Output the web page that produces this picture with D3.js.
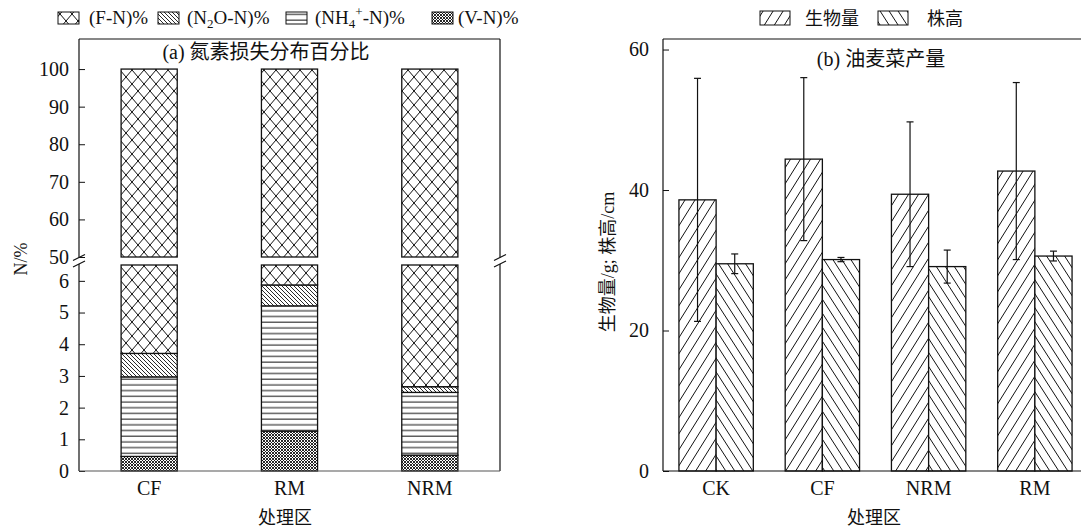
<!DOCTYPE html>
<html><head><meta charset="utf-8">
<script src="https://cdn.jsdelivr.net/npm/d3@7"></script>
<style>
body{margin:0;background:#fff;}
text{font-family:"Liberation Serif","Noto Sans CJK SC",serif;fill:#111;}
</style></head><body>
<svg id="c" width="1081" height="529"></svg>
<script>
// ---------- data: panel (a) ----------
const catsA = ["CF","RM","NRM"];
const vN   = [0.46, 1.26, 0.50];   // (V-N)%
const nh4N = [2.51, 3.95, 1.98];   // (NH4+-N)%
const n2oN = [0.74, 0.66, 0.18];   // (N2O-N)%
const totalA = [100, 100, 100];    // F-N fills to 100
const ticksLow  = [0,1,2,3,4,5,6];
const ticksHigh = [50,60,70,80,90,100];

// ---------- data: panel (b) ----------
const catsB = ["CK","CF","NRM","RM"];
const seriesB = ["生物量","株高"];
const biomass    = [38.6, 44.4, 39.4, 42.7];
const biomassErr = [17.3, 11.6, 10.3, 12.6];
const plantH     = [29.5, 30.1, 29.1, 30.6];
const plantHErr  = [1.4, 0.3, 2.35, 0.7];
const ticksB = [0,20,40,60];

const svg = d3.select("#c");
const defs = svg.append("defs");
function pat(id,w,h,d,sw){
  const p = defs.append("pattern").attr("id",id).attr("patternUnits","userSpaceOnUse")
    .attr("width",w).attr("height",h);
  p.append("rect").attr("width",w).attr("height",h).attr("fill","#fff");
  p.append("path").attr("d",d).attr("stroke","#111").attr("stroke-width",sw).attr("fill","none");
}
pat("pF",12,14,"M0,0L12,14M12,0L0,14",1);
pat("pN2O",4,4,"M0,0L4,4M-1,3L1,5M3,-1L5,1",0.9);
pat("pNH4",6,5.7,"M0,3L6,3",1);
pat("pV",3,3,"M0,0L3,3M3,0L0,3",0.9);
pat("pBio",10,16,"M0,16L10,0M-1,1.6L1,-1.6M9,17.6L11,14.4",1);
pat("pH",9,14,"M0,0L9,14M-1,12.44L1,15.56M8,-1.56L10,1.56",1);

// ================= Panel (a) =================
const AX0=79, AX1=500, TOP=39, BOT=471;
const xA = d3.scaleBand().domain(catsA).range([AX0,AX1]).paddingInner(0.6).paddingOuter(0.3);
const yLow  = d3.scaleLinear().domain([0,6.5]).range([BOT,265]);
const yHigh = d3.scaleLinear().domain([50,108]).range([257,TOP]);

const gA = svg.append("g");
catsA.forEach((c,i)=>{
  const segs = [];
  let acc=0;
  [[vN[i],"pV"],[nh4N[i],"pNH4"],[n2oN[i],"pN2O"]].forEach(([v,p])=>{segs.push({lo:acc,hi:acc+v,p});acc+=v;});
  segs.push({lo:acc,hi:totalA[i],p:"pF"});
  segs.forEach(s=>{
    [[yLow,0,6.5],[yHigh,50,108]].forEach(([sc,d0,d1])=>{
      const lo=Math.max(s.lo,d0), hi=Math.min(s.hi,d1);
      if(hi>lo){
        gA.append("rect").attr("x",xA(c)).attr("width",xA.bandwidth())
          .attr("y",sc(hi)).attr("height",sc(lo)-sc(hi))
          .attr("fill",`url(#${s.p})`).attr("stroke","#111").attr("stroke-width",1.3);
      }
    });
  });
});

// axes (a)
function styleAxis(g){
  g.select(".domain").remove();
  g.selectAll("text").style("font-size","20px").style("font-family",'"Liberation Serif",serif');
  g.selectAll("line").attr("stroke","#111");
}
svg.append("g").attr("transform",`translate(${AX0},0)`)
  .call(d3.axisLeft(yLow).tickValues(ticksLow).tickSizeInner(-6).tickSizeOuter(0).tickPadding(10).tickFormat(d3.format("d")))
  .call(styleAxis);
svg.append("g").attr("transform",`translate(${AX0},0)`)
  .call(d3.axisLeft(yHigh).tickValues(ticksHigh).tickSizeInner(-6).tickSizeOuter(0).tickPadding(10).tickFormat(d3.format("d")))
  .call(styleAxis);
svg.append("g").attr("transform",`translate(0,${BOT})`)
  .call(d3.axisBottom(xA).tickSize(0).tickPadding(10))
  .call(styleAxis);

const fr = svg.append("g").attr("stroke","#111").attr("stroke-width",1.2).attr("fill","none");
const bA=257.5, bB=264;
[AX0,AX1].forEach(x=>{
  fr.append("line").attr("x1",x).attr("x2",x).attr("y1",TOP).attr("y2",bA);
  fr.append("line").attr("x1",x).attr("x2",x).attr("y1",bB).attr("y2",BOT);
  [bA,bB].forEach(y=>fr.append("line").attr("x1",x-6).attr("x2",x+6).attr("y1",y+3).attr("y2",y-3));
});
fr.append("line").attr("x1",AX0).attr("x2",AX1).attr("y1",TOP).attr("y2",TOP);
fr.append("line").attr("x1",AX0).attr("x2",AX1).attr("y1",BOT).attr("y2",BOT).attr("stroke","#555");

svg.append("text").attr("x",266).attr("y",59).attr("text-anchor","middle").style("font-size","20px").text("(a) 氮素损失分布百分比");
svg.append("text").attr("transform","translate(27,259) rotate(-90)").attr("text-anchor","middle").style("font-size","18px").text("N/%");
svg.append("text").attr("x",285).attr("y",524).attr("text-anchor","middle").style("font-size","18px").text("处理区");

// legend (a)
const legA = svg.append("g").style("font-size","19px");
const legItems = [{p:"pF",x:58},{p:"pN2O",x:158},{p:"pNH4",x:286},{p:"pV",x:432}];
legItems.forEach(it=>legA.append("rect").attr("x",it.x).attr("y",12).attr("width",21).attr("height",12)
  .attr("fill",`url(#${it.p})`).attr("stroke","#111").attr("stroke-width",1));
legA.append("text").attr("x",89).attr("y",24).text("(F-N)%");
const t2=legA.append("text").attr("x",187).attr("y",24);
t2.append("tspan").text("(N");t2.append("tspan").attr("dy",4).style("font-size","13px").text("2");
t2.append("tspan").attr("dy",-4).text("O-N)%");
const t3=legA.append("text").attr("x",315).attr("y",24);
t3.append("tspan").text("(NH");t3.append("tspan").attr("dy",4).style("font-size","13px").text("4");
t3.append("tspan").attr("dy",-12).style("font-size","13px").text("+");
t3.append("tspan").attr("dy",8).text("-N)%");
legA.append("text").attr("x",458).attr("y",24).text("(V-N)%");

// ================= Panel (b) =================
const BX0=663, BX1=1088;
const xB = d3.scaleBand().domain(catsB).range([BX0,BX1]).paddingInner(0.3).paddingOuter(0.15);
const xS = d3.scaleBand().domain(seriesB).range([0,xB.bandwidth()]);
const yB = d3.scaleLinear().domain([0,61.5]).range([BOT,TOP]);

const gB = svg.append("g");
const rowsB = catsB.map((c,i)=>[
  {c,s:seriesB[0],v:biomass[i],e:biomassErr[i],p:"pBio"},
  {c,s:seriesB[1],v:plantH[i],e:plantHErr[i],p:"pH"}]).flat();
gB.selectAll("rect").data(rowsB).join("rect")
  .attr("x",d=>xB(d.c)+xS(d.s)).attr("width",xS.bandwidth())
  .attr("y",d=>yB(d.v)).attr("height",d=>yB(0)-yB(d.v))
  .attr("fill",d=>`url(#${d.p})`).attr("stroke","#111").attr("stroke-width",1.3);
const eb = gB.append("g").attr("stroke","#111").attr("stroke-width",1.2);
rowsB.forEach(d=>{
  const cx = xB(d.c)+xS(d.s)+xS.bandwidth()/2;
  eb.append("line").attr("x1",cx).attr("x2",cx).attr("y1",yB(d.v+d.e)).attr("y2",yB(d.v-d.e));
  [d.v+d.e,d.v-d.e].forEach(v=>eb.append("line").attr("x1",cx-3.5).attr("x2",cx+3.5).attr("y1",yB(v)).attr("y2",yB(v)));
});

svg.append("g").attr("transform",`translate(${BX0},0)`)
  .call(d3.axisLeft(yB).tickValues(ticksB).tickSizeInner(-6).tickSizeOuter(0).tickPadding(14))
  .call(styleAxis);
svg.append("g").attr("transform",`translate(0,${BOT})`)
  .call(d3.axisBottom(xB).tickSize(0).tickPadding(10))
  .call(styleAxis);
const frB = svg.append("g").attr("stroke","#111").attr("stroke-width",1.2);
frB.append("line").attr("x1",BX0).attr("x2",BX1).attr("y1",TOP).attr("y2",TOP);
frB.append("line").attr("x1",BX0).attr("x2",BX1).attr("y1",BOT).attr("y2",BOT);
frB.append("line").attr("x1",BX0).attr("x2",BX0).attr("y1",TOP).attr("y2",BOT);
frB.append("line").attr("x1",BX1).attr("x2",BX1).attr("y1",TOP).attr("y2",BOT);

svg.append("text").attr("x",881).attr("y",66).attr("text-anchor","middle").style("font-size","20px").text("(b) 油麦菜产量");
svg.append("text").attr("transform","translate(614,262) rotate(-90)").attr("text-anchor","middle").style("font-size","18px").text("生物量/g; 株高/cm");
svg.append("text").attr("x",874).attr("y",524).attr("text-anchor","middle").style("font-size","18px").text("处理区");

const legB = svg.append("g").style("font-size","18px");
[{p:"pBio",x:760,t:seriesB[0],tx:805},{p:"pH",x:878,t:seriesB[1],tx:927}].forEach(it=>{
  legB.append("rect").attr("x",it.x).attr("y",11).attr("width",30).attr("height",14)
    .attr("fill",`url(#${it.p})`).attr("stroke","#111").attr("stroke-width",1);
  legB.append("text").attr("x",it.tx).attr("y",25).text(it.t);
});
</script>
</body></html>
